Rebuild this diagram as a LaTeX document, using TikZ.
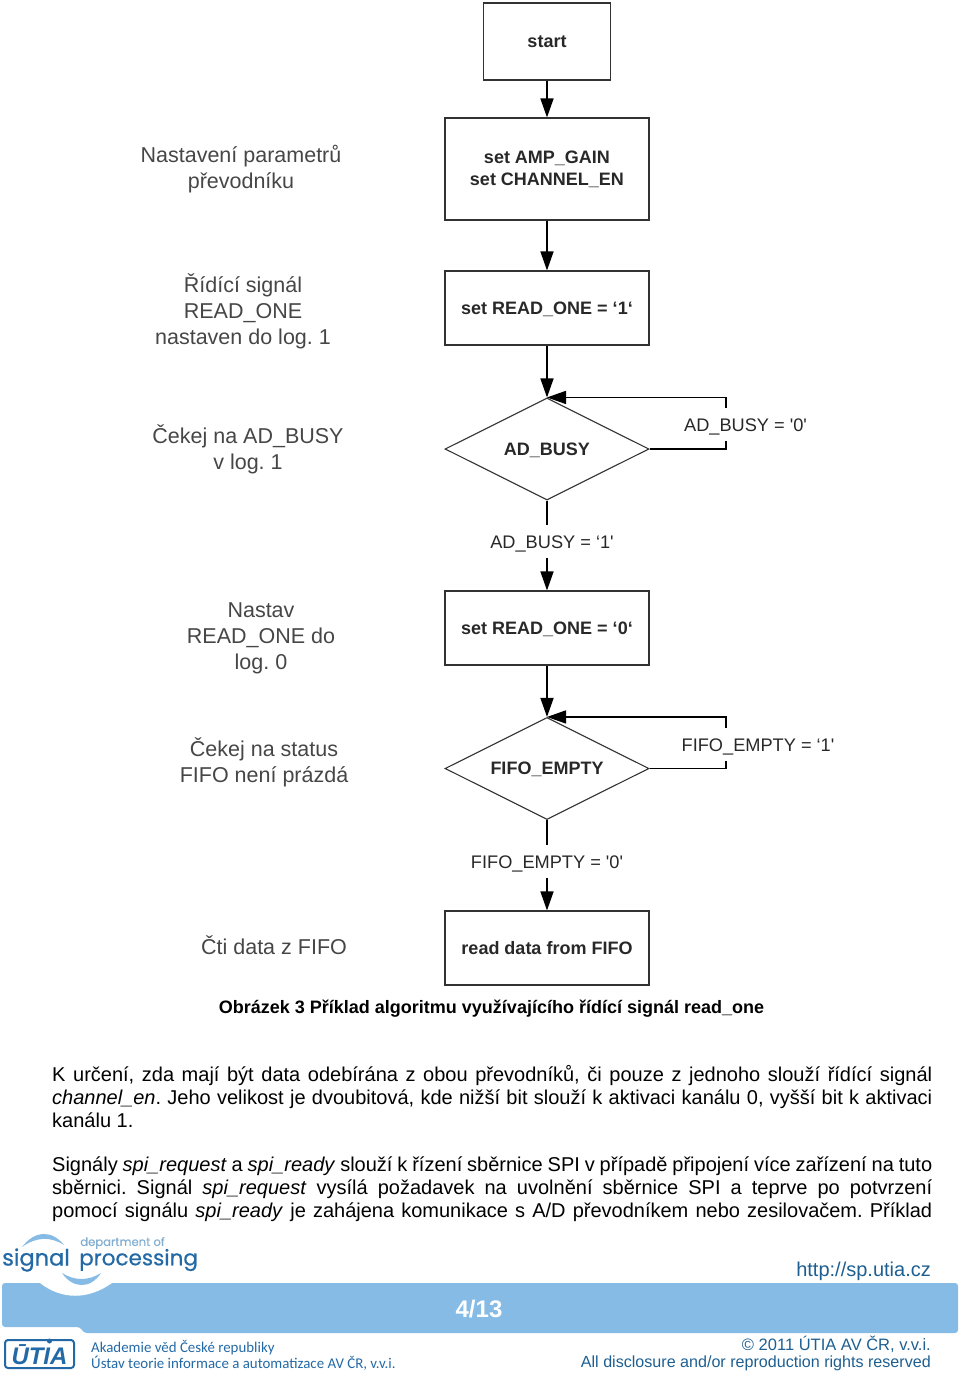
\documentclass[tikz,border=0pt]{standalone}
\usepackage{fontspec}
\setmainfont{Liberation Sans}
\newfontfamily\logofont[FakeBold=0.6]{Poppins}
\newfontfamily\akfont{Carlito}
\usetikzlibrary{arrows.meta, positioning, shapes.geometric, calc}

\tikzset{
    stepbox/.style={draw=boxline, line width=1.1pt, minimum width=204pt, font=\fontsize{18}{22}\selectfont\bfseries, text=flowtext, align=center, inner sep=0pt, text height=12pt, text depth=0pt},
    testbox/.style={diamond, draw=boxline, line width=1.1pt, minimum width=204pt, minimum height=102pt, aspect=2, inner sep=0pt, font=\fontsize{18}{20}\selectfont\bfseries, text=flowtext, text height=12pt, text depth=0pt},
    flowarrow/.style={line width=1.5pt, draw=black, -{Triangle[length=19pt, width=13pt]}},
    flowline/.style={line width=1.5pt, draw=black},
    branchlabel/.style={font=\fontsize{18.2}{20}\selectfont, text=flowtext, inner sep=0pt, minimum height=33pt, text height=13pt, text depth=0pt},
    notelabel/.style={font=\fontsize{21.5}{26}\selectfont\frenchspacing, text=notetext, align=center, inner sep=0pt},
    bodytext/.style={anchor=north west, text width=880pt, align=justify, inner sep=0pt, font=\fontsize{20}{23}\selectfont\frenchspacing, text=black},
    footertext/.style={anchor=east, inner sep=0pt, text=footerblue}
}

\begin{document}
\begin{tikzpicture}[x=1pt, y=-1pt]
    % Define colors
    \definecolor{boxline}{RGB}{50,50,50}
    \definecolor{flowtext}{RGB}{40,40,40}
    \definecolor{notetext}{RGB}{70,70,70}
    \definecolor{bandblue}{RGB}{133,187,229}
    \definecolor{footerblue}{RGB}{30,95,145}
    \definecolor{logoblue}{RGB}{35,105,165}

    % Define dimensions
    \def\flowx{547}
    \def\loopx{726}

    \useasboundingbox (0,0) rectangle (960,1374);

    % Flow boxes
    \node[stepbox, minimum width=127pt, minimum height=77pt] (start) at (\flowx,41.5) {start};
    \node[stepbox, minimum height=102pt, text height=32pt] (setgain) at (\flowx,169) {set AMP\_GAIN\\set CHANNEL\_EN};
    \node[stepbox, minimum height=74pt] (readhigh) at (\flowx,308) {set READ\_ONE = ‘1‘};
    \node[testbox] (adbusy) at (\flowx,449) {AD\_BUSY};
    \node[stepbox, minimum height=74pt] (readlow) at (\flowx,628) {set READ\_ONE = ‘0‘};
    \node[testbox] (fifoempty) at (\flowx,768.5) {FIFO\_EMPTY};
    \node[stepbox, minimum height=74pt] (readdata) at (\flowx,948) {read data from FIFO};

    % Branch labels
    \node[branchlabel] (busyone) at (552,541.5) {AD\_BUSY = ‘1\textquotesingle};
    \node[branchlabel] (busyzero) at (745.5,424.5) {AD\_BUSY = \textquotesingle 0\textquotesingle};
    \node[branchlabel] (emptyzero) at (547,861.5) {FIFO\_EMPTY = \textquotesingle 0\textquotesingle};
    \node[branchlabel] (emptyone) at (758,744.5) {FIFO\_EMPTY = ‘1\textquotesingle};
    \coordinate (busyloop) at (\loopx,424);
    \coordinate (emptyloop) at (\loopx,744);

    % Connectors
    \draw[flowarrow] (start) -- (setgain);
    \draw[flowarrow] (setgain) -- (readhigh);
    \draw[flowarrow] (readhigh) -- (adbusy.north);
    \draw[flowline] (adbusy.south) -- (adbusy.south |- busyone.north);
    \draw[flowarrow] (adbusy.south |- busyone.south) -- (readlow);
    \draw[flowarrow] (readlow) -- (fifoempty.north);
    \draw[flowline] (fifoempty.south) -- (fifoempty.south |- emptyzero.north);
    \draw[flowarrow] (fifoempty.south |- emptyzero.south) -- (readdata);

    % Return loops
    \draw[flowline] (adbusy.east) -| (busyloop |- busyzero.south);
    \draw[flowarrow] (busyloop |- busyzero.north) |- (adbusy.north);
    \draw[flowline] (fifoempty.east) -| (emptyloop |- emptyone.south);
    \draw[flowarrow] (emptyloop |- emptyone.north) |- (fifoempty.north);

    % Notes on the left
    \node[notelabel] (noteparam) at (241,169.5) {Nastavení parametrů\\převodníku};
    \node[notelabel] (notesignal) at (243,311.5) {Řídící signál\\READ\_ONE\\nastaven do log. 1};
    \node[notelabel] (notebusy) at (248,449.5) {Čekej na AD\_BUSY\\v log. 1};
    \node[notelabel] (notereset) at (261,638) {Nastav\\READ\_ONE do\\log. 0};
    \node[notelabel] (notestatus) at (264,762) {Čekej na status\\FIFO není prázdá};
    \node[notelabel] (noteread) at (274,945.5) {Čti data z FIFO};

    % Caption and body text
    \node[font=\fontsize{18}{20}\selectfont\bfseries, inner sep=0pt] (caption) at (491.5,1009) {Obrázek 3 Příklad algoritmu využívajícího řídící signál read\_one};
    \node[bodytext] (parone) at (52,1065) {K určení, zda mají být data odebírána z~obou převodníků, či pouze z~jednoho slouží řídící signál\linebreak \textit{channel\_en}. Jeho velikost je dvoubitová, kde nižší bit slouží k~aktivaci kanálu 0, vyšší bit k~aktivaci\linebreak kanálu 1.};
    \node[bodytext] (partwo) at (52,1157) {Signály \textit{spi\_request} a \textit{spi\_ready} slouží k~řízení sběrnice SPI v~případě připojení více zařízení na tuto\linebreak sběrnici. Signál \textit{spi\_request} vysílá požadavek na uvolnění sběrnice SPI a teprve po potvrzení\linebreak pomocí signálu \textit{spi\_ready} je zahájena komunikace s~A/D převodníkem nebo zesilovačem. Příklad\linebreak};

    % Footer band
    \fill[bandblue, rounded corners=3pt] (2,1283) -- (958,1283) -- (958,1333) -- (84,1333) -- (80,1327) -- (2,1327) -- cycle;
    \fill[white] (40,1283) .. controls (62,1300) and (88,1300) .. (112,1283) -- cycle;

    % Logo swooshes
    \fill[bandblue] (22,1247) .. controls (35,1230) and (52,1230) .. (64,1245) .. controls (50,1236) and (36,1237) .. (22,1247) -- cycle;
    \fill[bandblue] (62,1273) .. controls (75,1281) and (88,1281) .. (101,1273) .. controls (90,1290) and (72,1288) .. (62,1273) -- cycle;
    \node[font=\logofont\fontsize{11.6}{12}\selectfont, text=bandblue!80!gray, inner sep=0pt] (logodept) at (122.5,1243) {department of};
    \node[font=\logofont\fontsize{22.5}{22}\selectfont, text=logoblue, inner sep=0pt, anchor=west] (logosignal) at (2,1260) {signal};
    \node[font=\logofont\fontsize{21.5}{22}\selectfont, text=logoblue, inner sep=0pt, anchor=west] (logoproc) at (79,1260) {processing};

    % Institute logo
    \draw[logoblue, line width=2pt, rounded corners=3pt] (5,1340) rectangle (74,1368);
    \node[font=\fontsize{24}{26}\selectfont\bfseries\itshape, text=logoblue, inner sep=0pt] (logoutia) at (39.5,1355) {ŪTIA};
    \fill[logoblue] (49.5,1341) circle (2.5);
    \node[font=\akfont\fontsize{14.9}{14.5}\selectfont, text=logoblue, anchor=west, align=left, inner sep=0pt] (akademie) at (91,1355.5) {Akademie věd České republiky\\Ústav teorie informace a automatizace AV ČR, v.v.i.};

    % Footer texts
    \node[font=\fontsize{24}{26}\selectfont\bfseries, text=white, inner sep=0pt] (pagenum) at (479,1309) {4/13};
    \node[footertext, font=\fontsize{20}{22}\selectfont] (website) at (931,1271) {http://sp.utia.cz};
    \node[footertext, font=\fontsize{16.5}{20}\selectfont] (copyright) at (931,1344) {© 2011 ÚTIA AV ČR, v.v.i.};
    \node[footertext, font=\fontsize{16.1}{20}\selectfont] (rights) at (931,1363) {All disclosure and/or reproduction rights reserved};
\end{tikzpicture}
\end{document}
